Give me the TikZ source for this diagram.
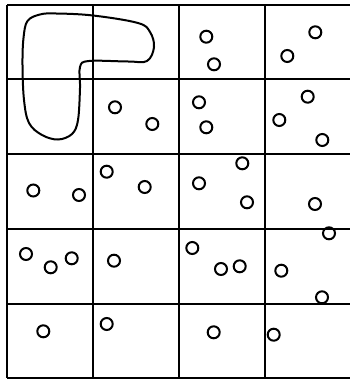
\documentclass[tikz,border=0pt]{standalone}
\usepackage{tikz}

\begin{document}
\begin{tikzpicture}[
  x=1pt, y=-1pt,
  gridline/.style={line width=2pt, black},
  dot/.style={line width=2pt, black},
  blob/.style={line width=2pt, black}
]
\useasboundingbox (0,0) rectangle (349,379);

% Grid of cells
\foreach \i in {0,...,4}
  \draw[gridline] (7+86*\i,4.7) -- (7+86*\i,378);
\foreach \j in {0,...,5}
  \draw[gridline] (7,4.7+74.7*\j) -- (350.7,4.7+74.7*\j);

% Region
\draw[blob] plot[smooth cycle, tension=0.6] coordinates {
  (27.5,21) (40,14.5) (56,13.5) (93,15.5) (138,23) (150,32) (154,47)
  (147,61) (128,61.5) (89,61) (80,67) (80,88) (78,120) (72,134)
  (58,139.5) (42,135) (29,123) (24,100) (22.5,65) (23.5,38)};

% Points
\foreach \px/\py in {
  206.3/36.7, 214/64.3, 315.3/32.3, 287.3/56,
  115/107.3, 152.3/124,
  199/102.3, 206.3/127.3,
  307.7/96.7, 279.3/120, 322.3/140,
  33.3/190.5, 79/195,
  106.7/171.7, 144.7/187,
  242.3/163.3, 199/183.3, 247/202.3,
  315/204,
  26/254, 50.7/267.3, 71.7/258.3,
  114/260.7,
  192.3/248, 221/269, 239.7/266.3,
  329/233.3, 281.3/270.7, 322/297.3,
  43.3/331.3, 106.7/324, 213.7/332.3, 273.7/334.7}
  \draw[dot] (\px,\py) circle (6);
\end{tikzpicture}
\end{document}
